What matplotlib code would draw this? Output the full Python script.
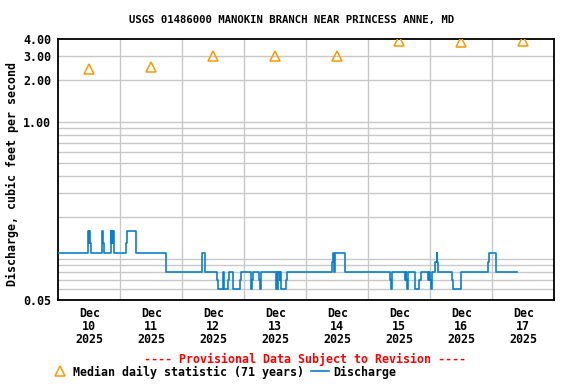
import matplotlib
matplotlib.use("Agg")
import matplotlib.pyplot as plt
from matplotlib.lines import Line2D
from matplotlib.ticker import FixedLocator, NullFormatter
import pandas as pd

# ---------------- data ----------------
title = "USGS 01486000 MANOKIN BRANCH NEAR PRINCESS ANNE, MD"
ylabel = "Discharge, cubic feet per second"

median_days = ["2025-12-10 12:00", "2025-12-11 12:00", "2025-12-12 12:00", "2025-12-13 12:00",
               "2025-12-14 12:00", "2025-12-15 12:00", "2025-12-16 12:00", "2025-12-17 12:00"]
median_vals = [2.4, 2.5, 3.0, 3.0, 3.0, 3.9, 3.8, 3.9]

# discharge step changes (time, value) - value holds until next time
q_times = [
    "2025-12-10 00:00", "2025-12-10 11:30", "2025-12-10 11:45", "2025-12-10 12:00", "2025-12-10 12:15",
    "2025-12-10 12:30", "2025-12-10 17:00", "2025-12-10 17:15", "2025-12-10 17:30",
    "2025-12-10 20:15", "2025-12-10 20:30", "2025-12-10 20:45", "2025-12-10 21:00", "2025-12-10 21:15",
    "2025-12-10 21:30", "2025-12-10 21:45",
    "2025-12-11 02:15", "2025-12-11 02:45", "2025-12-11 06:15",
    "2025-12-11 17:30", "2025-12-11 17:45",
    "2025-12-12 07:30", "2025-12-12 08:45",
    "2025-12-12 13:30", "2025-12-12 13:45", "2025-12-12 15:45", "2025-12-12 16:15", "2025-12-12 17:45",
    "2025-12-12 18:15", "2025-12-12 19:30", "2025-12-12 22:15", "2025-12-12 22:45",
    "2025-12-13 02:45", "2025-12-13 03:00", "2025-12-13 03:15",
    "2025-12-13 05:45", "2025-12-13 06:15", "2025-12-13 06:30",
    "2025-12-13 12:15", "2025-12-13 12:30", "2025-12-13 12:45", "2025-12-13 13:00", "2025-12-13 13:45",
    "2025-12-13 14:00", "2025-12-13 14:15", "2025-12-13 16:15", "2025-12-13 16:30",
    "2025-12-14 10:00", "2025-12-14 10:30", "2025-12-14 10:45", "2025-12-14 11:00", "2025-12-14 15:00",
    "2025-12-15 08:30", "2025-12-15 08:45", "2025-12-15 09:00",
    "2025-12-15 14:15", "2025-12-15 14:30", "2025-12-15 14:45", "2025-12-15 15:00", "2025-12-15 15:15",
    "2025-12-15 18:00", "2025-12-15 19:45", "2025-12-15 20:15",
    "2025-12-15 23:15", "2025-12-15 23:30", "2025-12-15 23:45", "2025-12-16 00:15", "2025-12-16 00:30",
    "2025-12-16 02:00", "2025-12-16 02:30", "2025-12-16 02:45", "2025-12-16 03:00",
    "2025-12-16 08:15", "2025-12-16 08:45", "2025-12-16 11:45", "2025-12-16 12:00",
    "2025-12-16 22:30", "2025-12-16 22:45", "2025-12-17 01:15", "2025-12-17 01:30",
    "2025-12-17 09:30",
]
q_vals = [
    0.11, 0.16, 0.13, 0.16, 0.13,
    0.11, 0.16, 0.13, 0.11,
    0.16, 0.13, 0.16, 0.13, 0.16,
    0.13, 0.11,
    0.13, 0.16, 0.11,
    0.095, 0.08,
    0.11, 0.08,
    0.07, 0.06, 0.08, 0.06, 0.07,
    0.08, 0.06, 0.07, 0.08,
    0.06, 0.07, 0.08,
    0.07, 0.06, 0.08,
    0.06, 0.08, 0.06, 0.08, 0.07,
    0.08, 0.06, 0.07, 0.08,
    0.095, 0.11, 0.08, 0.11, 0.08,
    0.07, 0.06, 0.08,
    0.07, 0.08, 0.07, 0.06, 0.08,
    0.06, 0.07, 0.08,
    0.07, 0.08, 0.07, 0.06, 0.08,
    0.095, 0.11, 0.095, 0.08,
    0.07, 0.06, 0.07, 0.08,
    0.095, 0.11, 0.095, 0.08,
    0.08,
]

ytick_vals = [0.05, 1.0, 2.0, 3.0, 4.0]
ytick_labels = ["0.05", "1.00", "2.00", "3.00", "4.00"]
ygrid_minor = [0.06, 0.07, 0.08, 0.09, 0.1, 0.2, 0.3, 0.4, 0.5, 0.6, 0.7, 0.8, 0.9]
xlabel_days = ["2025-12-10 12:00", "2025-12-11 12:00", "2025-12-12 12:00", "2025-12-13 12:00",
               "2025-12-14 12:00", "2025-12-15 12:00", "2025-12-16 12:00", "2025-12-17 12:00"]
xlabel_text = ["Dec\n10\n2025", "Dec\n11\n2025", "Dec\n12\n2025", "Dec\n13\n2025",
               "Dec\n14\n2025", "Dec\n15\n2025", "Dec\n16\n2025", "Dec\n17\n2025"]
xgrid_days = ["2025-12-11", "2025-12-12", "2025-12-13", "2025-12-14",
              "2025-12-15", "2025-12-16", "2025-12-17"]

# ---------------- plot ----------------
FONT = "DejaVu Sans Mono"
FS = 8.4
plt.rcParams['font.family'] = [FONT]
plt.rcParams['font.weight'] = 'bold'

fig = plt.figure(figsize=(5.76, 3.84), dpi=100)
W, H = 576, 384
ax = fig.add_axes([58.3 / W, 84 / H, (554.3 - 58.3) / W, (300 - 39) / H])

ax.set_yscale('log')
ax.set_ylim(0.05, 4.0)
ax.set_xlim(pd.Timestamp("2025-12-10"), pd.Timestamp("2025-12-18"))

# gridlines
grid_c = "#c8c8c8"
for d in xgrid_days:
    ax.axvline(pd.Timestamp(d), color=grid_c, lw=1.0, zorder=1)
for v in ygrid_minor + ytick_vals[1:-1]:
    ax.axhline(v, color=grid_c, lw=1.0, zorder=1)

qt = pd.to_datetime(q_times)
ax.step(qt, q_vals, where='post', color='#0a7fd0', lw=1.2, zorder=3)

mt = pd.to_datetime(median_days)
ax.plot(mt, median_vals, linestyle='none', marker='^', markersize=7.5,
        markerfacecolor='none', markeredgecolor='#ff9900', markeredgewidth=1.1, zorder=4)

ax.yaxis.set_major_locator(FixedLocator(ytick_vals))
ax.set_yticklabels(ytick_labels)
ax.yaxis.set_minor_locator(FixedLocator([]))
ax.yaxis.set_minor_formatter(NullFormatter())
ax.set_xticks(pd.to_datetime(xlabel_days))
ax.set_xticklabels(xlabel_text, linespacing=0.98)
ax.tick_params(axis='both', length=0, labelsize=FS)
ax.tick_params(axis='y', pad=5)
ax.tick_params(axis='x', pad=5)
for lab in ax.get_xticklabels() + ax.get_yticklabels():
    lab.set_fontweight('bold')

for s in ax.spines.values():
    s.set_color('black')
    s.set_linewidth(1.3)

fig.text(12 / W, 1 - 173.5 / H, ylabel, rotation=90, ha='center', va='center',
         fontsize=FS, fontweight='bold')
fig.text(292 / W, 1 - 20 / H, title, ha='center', va='center', fontsize=7.7, fontweight='bold')
fig.text(305.5 / W, 1 - 359 / H, "---- Provisional Data Subject to Revision ----",
         ha='center', va='center', fontsize=FS, fontweight='bold', color='#ff0000')

handles = [
    Line2D([], [], linestyle='none', marker='^', markersize=7.5, markerfacecolor='none',
           markeredgecolor='#ff9900', markeredgewidth=1.1),
    Line2D([], [], color='#0a7fd0', lw=1.2),
]
fig.legend(handles, ["Median daily statistic (71 years)", "Discharge"], ncol=2,
           loc='center left', bbox_to_anchor=(51 / W, 12 / H), frameon=False,
           handlelength=1.5, handletextpad=0.4, columnspacing=0.6,
           borderpad=0, borderaxespad=0, prop={'family': FONT, 'weight': 'bold', 'size': FS})

fig.savefig("out.png", dpi=100)
